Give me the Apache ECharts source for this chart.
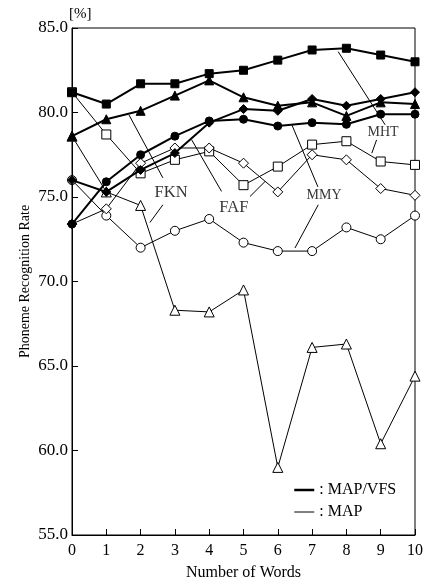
<!DOCTYPE html>
<html>
<head>
<meta charset="utf-8">
<script src="https://cdn.jsdelivr.net/npm/echarts@6/dist/echarts.min.js"></script>
<style>
html, body { margin: 0; padding: 0; background: #fff; }
#main { width: 427px; height: 586px; }
</style>
</head>
<body>
<div id="main"></div>
<script>
// number of words (x axis)
var words = [0, 1, 2, 3, 4, 5, 6, 7, 8, 9, 10];

// MAP/VFS (thick lines, filled marks)
var mhtVfs = [81.2, 80.5, 81.7, 81.7, 82.3, 82.5, 83.1, 83.7, 83.8, 83.4, 83.0];
var fknVfs = [78.6, 79.6, 80.1, 81.0, 81.9, 80.9, 80.4, 80.6, 79.8, 80.6, 80.5];
var mmyVfs = [73.4, 75.9, 77.5, 78.6, 79.5, 79.6, 79.2, 79.4, 79.3, 79.9, 79.9];
var fafVfs = [76.0, 75.3, 76.6, 77.6, 79.4, 80.2, 80.1, 80.8, 80.4, 80.8, 81.2];

// MAP (thin lines, open marks)
var mhtMap = [81.2, 78.7, 76.4, 77.2, 77.7, 75.7, 76.8, 78.1, 78.3, 77.1, 76.9];
var fknMap = [78.6, 75.3, 74.5, 68.3, 68.2, 69.5, 59.0, 66.1, 66.3, 60.4, 64.4];
var mmyMap = [76.0, 73.9, 72.0, 73.0, 73.7, 72.3, 71.8, 71.8, 73.2, 72.5, 73.9];
var fafMap = [73.4, 74.3, 77.0, 77.9, 77.9, 77.0, 75.3, 77.5, 77.2, 75.5, 75.1];

// speaker labels and their arrows (word, rate)
var speakerNames = ['FKN', 'FAF', 'MMY', 'MHT'];
var speakerPos = [[2.89, 75.25], [4.72, 74.36], [7.35, 75.07], [9.07, 78.8]];
var arrows = [
	[[2.65, 76.13], [1.66, 79.86]],
	[[2.65, 74.54], [2.27, 73.49]],
	[[4.36, 75.33], [3.49, 78.38]],
	[[5.19, 75.03], [5.63, 75.92]],
	[[7.17, 75.60], [6.41, 79.27]],
	[[7.18, 74.54], [6.50, 71.98]],
	[[9.13, 79.27], [7.76, 83.60]],
	[[8.88, 78.38], [8.74, 77.59]]
];

var font = 'Liberation Serif';

function pairs(vals) {
	return vals.map(function (v, i) { return [words[i], v]; });
}

function thin(name, vals, symbol, size) {
	return {
		name: name, type: 'line', data: pairs(vals),
		symbol: symbol, symbolSize: size, z: 2,
		lineStyle: { color: '#000', width: 1 },
		itemStyle: { color: '#fff', borderColor: '#000', borderWidth: 1 },
		emphasis: { disabled: true }, animation: false
	};
}

function thick(name, vals, symbol, size) {
	return {
		name: name, type: 'line', data: pairs(vals),
		symbol: symbol, symbolSize: size, z: 3,
		lineStyle: { color: '#000', width: 2 },
		itemStyle: { color: '#000', borderColor: '#000', borderWidth: 1 },
		emphasis: { disabled: true }, animation: false
	};
}

var myChart = echarts.init(document.getElementById('main'));

var series = [
	thin('MHT MAP', mhtMap, 'rect', 9),
	thin('FKN MAP', fknMap, 'triangle', 10),
	thin('MMY MAP', mmyMap, 'circle', 9),
	thin('FAF MAP', fafMap, 'diamond', 10),
	thick('MHT MAP/VFS', mhtVfs, 'rect', 8),
	thick('FKN MAP/VFS', fknVfs, 'triangle', 9),
	thick('MMY MAP/VFS', mmyVfs, 'circle', 8),
	thick('FAF MAP/VFS', fafVfs, 'diamond', 9),
	// legend entries only
	{ name: 'MAP/VFS', type: 'line', data: [], symbol: 'none', lineStyle: { color: '#000', width: 2.5 }, itemStyle: { color: '#000' } },
	{ name: 'MAP', type: 'line', data: [], symbol: 'none', lineStyle: { color: '#000', width: 1 }, itemStyle: { color: '#000' } },
	// speaker labels + arrows
	{
		name: 'speakers', type: 'scatter', symbolSize: 0, z: 5, silent: true, animation: false,
		data: speakerPos.map(function (p, i) { return { value: p, name: speakerNames[i] }; }),
		label: {
			show: true, position: 'inside', color: '#000', fontFamily: font,
			formatter: function (p) { return p.name; }
		},
		labelLayout: function (p) {
			return { fontSize: p.dataIndex < 2 ? 16.5 : 14 };
		},
		markLine: {
			silent: true, animation: false,
			symbol: ['none', 'arrow'], symbolSize: [0, 6],
			label: { show: false },
			lineStyle: { color: '#000', width: 1, type: 'solid' },
			data: arrows.map(function (a) { return [{ coord: a[0] }, { coord: a[1] }]; })
		}
	}
];

var option = {
	backgroundColor: '#fff',
	animation: false,
	title: {
		text: '[%]', left: 64, top: 2,
		textStyle: { fontFamily: font, fontSize: 15, fontWeight: 'normal', color: '#000' }
	},
	legend: {
		data: [
			{ name: 'MAP/VFS', itemStyle: { opacity: 0 }, lineStyle: { width: 2.5, color: '#000' } },
			{ name: 'MAP', itemStyle: { opacity: 0 }, lineStyle: { width: 1, color: '#000' } }
		],
		orient: 'vertical', left: 288, top: 477,
		itemWidth: 20, itemHeight: 12, itemGap: 6,
		selectedMode: false,
		formatter: ': {name}',
		textStyle: { fontFamily: font, fontSize: 16, color: '#000' }
	},
	grid: {
		left: 72, right: 12, top: 28, bottom: 50,
		show: true, borderColor: '#000', borderWidth: 1
	},
	xAxis: {
		type: 'value', min: 0, max: 10, interval: 1,
		name: 'Number of Words', nameLocation: 'middle', nameGap: 30,
		nameTextStyle: { fontFamily: font, fontSize: 16, color: '#000' },
		axisLine: { lineStyle: { color: '#000', width: 1 } },
		axisTick: { inside: true, length: 6, lineStyle: { color: '#000' } },
		axisLabel: { fontFamily: font, fontSize: 16, color: '#000', margin: 8 },
		splitLine: { show: false }
	},
	yAxis: {
		type: 'value', min: 55, max: 85, interval: 5,
		name: 'Phoneme Recognition Rate', nameLocation: 'middle', nameGap: 40,
		nameMoveOverlap: false,
		nameTextStyle: { fontFamily: font, fontSize: 14, color: '#000' },
		axisLine: { show: true, lineStyle: { color: '#000', width: 1 } },
		axisTick: { show: true, inside: true, length: 6, lineStyle: { color: '#000' } },
		axisLabel: {
			fontFamily: font, fontSize: 17, color: '#000', margin: 4,
			formatter: function (v) { return v.toFixed(1); }
		},
		splitLine: { show: false }
	},
	series: series
};

myChart.setOption(option);
</script>
</body>
</html>
